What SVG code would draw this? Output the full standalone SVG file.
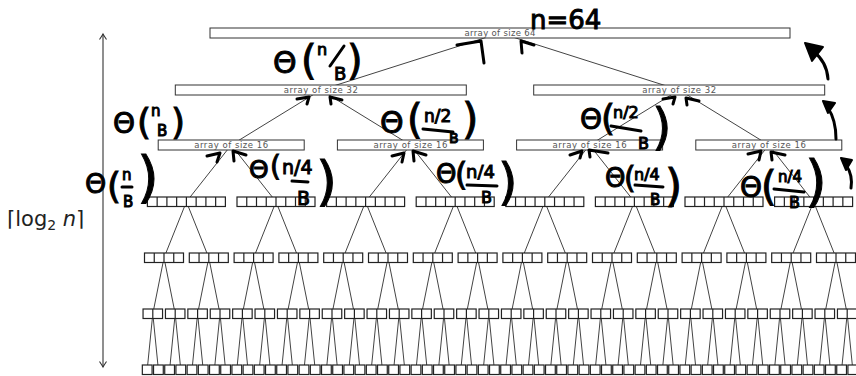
<svg xmlns="http://www.w3.org/2000/svg" xmlns:xlink="http://www.w3.org/1999/xlink" width="856" height="376" viewBox="0 0 856 376">
<style>
.bx{fill:#fff;stroke:#333;stroke-width:1}
.cl{fill:#fff;stroke:#222;stroke-width:1.2}
.cd{fill:none;stroke:#222;stroke-width:1.2}
.cn{fill:none;stroke:#444;stroke-width:1}
.lb{font-family:"DejaVu Sans","Liberation Sans",sans-serif;font-size:8.5px;fill:#555;text-anchor:middle}
.ax{fill:none;stroke:#333;stroke-width:1.1}
.lg{font-family:"DejaVu Sans","Liberation Sans",sans-serif;font-size:21px;fill:#222}
.hw{font-family:"DejaVu Sans","Liberation Sans",sans-serif;font-weight:normal;fill:#000;stroke:#000;stroke-width:1}
.hs{fill:none;stroke:#000;stroke-width:3;stroke-linecap:round;stroke-linejoin:round}
</style>
<defs>
<marker id="ah" viewBox="-7 -5 9 10" markerWidth="9" markerHeight="10" refX="0" refY="0" orient="auto-start-reverse" markerUnits="userSpaceOnUse"><path d="M-5.5,-3.5 Q-1.5,-0.8 0,0 Q-1.5,0.8 -5.5,3.5" fill="none" stroke="#333" stroke-width="1.1"/></marker>
<g id="b1"><rect class="cl" width="9.75" height="9.5"/></g>
<g id="b2"><rect class="cl" width="19.5" height="9.5"/><path class="cd" d="M9.75 0v9.5"/></g>
<g id="b4"><rect class="cl" width="39" height="9.5"/><path class="cd" d="M9.75 0v9.5M19.5 0v9.5M29.25 0v9.5"/></g>
<g id="b8"><rect class="cl" width="78" height="9.5"/><path class="cd" d="M9.75 0v9.5M19.5 0v9.5M29.25 0v9.5M39 0v9.5M48.75 0v9.5M58.5 0v9.5M68.25 0v9.5"/></g>
</defs>
<rect width="856" height="376" fill="#fff"/>

<g id="axis">
<path class="ax" d="M103 367V34" marker-start="url(#ah)" marker-end="url(#ah)"/>
<text class="lg" x="7" y="226">⌈log<tspan font-size="14" dy="4">2</tspan><tspan dy="-4"> </tspan><tspan font-style="italic">n</tspan>⌉</text>
</g>

<g id="connectors" class="cn">
<path d="M320.8 90L500 33L679.2 90"/>
<path d="M231.2 145l89.6-55 89.6 55m179.2 0l89.6-55 89.6 55"/>
<path d="M186.4 201.75l44.8-56.75 44.8 56.75m89.6 0l44.8-56.75 44.8 56.75m89.6 0l44.8-56.75 44.8 56.75m89.6 0l44.8-56.75 44.8 56.75"/>
<path d="M164 257.75l22.4-56 22.4 56m44.8 0l22.4-56 22.4 56m44.8 0l22.4-56 22.4 56m44.8 0l22.4-56 22.4 56m44.8 0l22.4-56 22.4 56m44.8 0l22.4-56 22.4 56m44.8 0l22.4-56 22.4 56m44.8 0l22.4-56 22.4 56"/>
<path d="M152.8 313.75l11.2-56 11.2 56m22.4 0l11.2-56 11.2 56m22.4 0l11.2-56 11.2 56m22.4 0l11.2-56 11.2 56m22.4 0l11.2-56 11.2 56m22.4 0l11.2-56 11.2 56m22.4 0l11.2-56 11.2 56m22.4 0l11.2-56 11.2 56m22.4 0l11.2-56 11.2 56m22.4 0l11.2-56 11.2 56m22.4 0l11.2-56 11.2 56m22.4 0l11.2-56 11.2 56m22.4 0l11.2-56 11.2 56m22.4 0l11.2-56 11.2 56m22.4 0l11.2-56 11.2 56m22.4 0l11.2-56 11.2 56"/>
<path d="M147.2 369.75l5.6-56 5.6 56m11.2 0l5.6-56 5.6 56m11.2 0l5.6-56 5.6 56m11.2 0l5.6-56 5.6 56m11.2 0l5.6-56 5.6 56m11.2 0l5.6-56 5.6 56m11.2 0l5.6-56 5.6 56m11.2 0l5.6-56 5.6 56m11.2 0l5.6-56 5.6 56m11.2 0l5.6-56 5.6 56m11.2 0l5.6-56 5.6 56m11.2 0l5.6-56 5.6 56m11.2 0l5.6-56 5.6 56m11.2 0l5.6-56 5.6 56m11.2 0l5.6-56 5.6 56m11.2 0l5.6-56 5.6 56m11.2 0l5.6-56 5.6 56m11.2 0l5.6-56 5.6 56m11.2 0l5.6-56 5.6 56m11.2 0l5.6-56 5.6 56m11.2 0l5.6-56 5.6 56m11.2 0l5.6-56 5.6 56m11.2 0l5.6-56 5.6 56m11.2 0l5.6-56 5.6 56m11.2 0l5.6-56 5.6 56m11.2 0l5.6-56 5.6 56m11.2 0l5.6-56 5.6 56m11.2 0l5.6-56 5.6 56m11.2 0l5.6-56 5.6 56m11.2 0l5.6-56 5.6 56m11.2 0l5.6-56 5.6 56m11.2 0l5.6-56 5.6 56"/>
</g>

<g id="n64"><rect class="bx" x="210" y="28" width="580" height="10"/><text class="lb" x="500" y="36.2" textLength="71">array of size 64</text></g>
<g id="n32-0"><rect class="bx" x="175.3" y="85" width="291" height="10"/><text class="lb" x="320.8" y="93.2" textLength="74">array of size 32</text></g>
<g id="n32-1"><rect class="bx" x="533.7" y="85" width="291" height="10"/><text class="lb" x="679.2" y="93.2" textLength="74">array of size 32</text></g>
<g id="n16-0"><rect class="bx" x="158.2" y="140" width="146" height="10"/><text class="lb" x="231.2" y="148.2" textLength="74">array of size 16</text></g>
<g id="n16-1"><rect class="bx" x="337.4" y="140" width="146" height="10"/><text class="lb" x="410.4" y="148.2" textLength="74">array of size 16</text></g>
<g id="n16-2"><rect class="bx" x="516.6" y="140" width="146" height="10"/><text class="lb" x="589.6" y="148.2" textLength="74">array of size 16</text></g>
<g id="n16-3"><rect class="bx" x="695.8" y="140" width="146" height="10"/><text class="lb" x="768.8" y="148.2" textLength="74">array of size 16</text></g>

<g id="n8-0"><use href="#b8" x="147.4" y="197"/></g>
<g id="n8-1"><use href="#b8" x="237" y="197"/></g>
<g id="n8-2"><use href="#b8" x="326.6" y="197"/></g>
<g id="n8-3"><use href="#b8" x="416.2" y="197"/></g>
<g id="n8-4"><use href="#b8" x="505.8" y="197"/></g>
<g id="n8-5"><use href="#b8" x="595.4" y="197"/></g>
<g id="n8-6"><use href="#b8" x="685" y="197"/></g>
<g id="n8-7"><use href="#b8" x="774.6" y="197"/></g>

<g id="n4-0"><use href="#b4" x="144.5" y="253"/></g>
<g id="n4-1"><use href="#b4" x="189.3" y="253"/></g>
<g id="n4-2"><use href="#b4" x="234.1" y="253"/></g>
<g id="n4-3"><use href="#b4" x="278.9" y="253"/></g>
<g id="n4-4"><use href="#b4" x="323.7" y="253"/></g>
<g id="n4-5"><use href="#b4" x="368.5" y="253"/></g>
<g id="n4-6"><use href="#b4" x="413.3" y="253"/></g>
<g id="n4-7"><use href="#b4" x="458.1" y="253"/></g>
<g id="n4-8"><use href="#b4" x="502.9" y="253"/></g>
<g id="n4-9"><use href="#b4" x="547.7" y="253"/></g>
<g id="n4-10"><use href="#b4" x="592.5" y="253"/></g>
<g id="n4-11"><use href="#b4" x="637.3" y="253"/></g>
<g id="n4-12"><use href="#b4" x="682.1" y="253"/></g>
<g id="n4-13"><use href="#b4" x="726.9" y="253"/></g>
<g id="n4-14"><use href="#b4" x="771.7" y="253"/></g>
<g id="n4-15"><use href="#b4" x="816.5" y="253"/></g>

<g id="n2-0"><use href="#b2" x="143.05" y="309"/></g>
<g id="n2-1"><use href="#b2" x="165.45" y="309"/></g>
<g id="n2-2"><use href="#b2" x="187.85" y="309"/></g>
<g id="n2-3"><use href="#b2" x="210.25" y="309"/></g>
<g id="n2-4"><use href="#b2" x="232.65" y="309"/></g>
<g id="n2-5"><use href="#b2" x="255.05" y="309"/></g>
<g id="n2-6"><use href="#b2" x="277.45" y="309"/></g>
<g id="n2-7"><use href="#b2" x="299.85" y="309"/></g>
<g id="n2-8"><use href="#b2" x="322.25" y="309"/></g>
<g id="n2-9"><use href="#b2" x="344.65" y="309"/></g>
<g id="n2-10"><use href="#b2" x="367.05" y="309"/></g>
<g id="n2-11"><use href="#b2" x="389.45" y="309"/></g>
<g id="n2-12"><use href="#b2" x="411.85" y="309"/></g>
<g id="n2-13"><use href="#b2" x="434.25" y="309"/></g>
<g id="n2-14"><use href="#b2" x="456.65" y="309"/></g>
<g id="n2-15"><use href="#b2" x="479.05" y="309"/></g>
<g id="n2-16"><use href="#b2" x="501.45" y="309"/></g>
<g id="n2-17"><use href="#b2" x="523.85" y="309"/></g>
<g id="n2-18"><use href="#b2" x="546.25" y="309"/></g>
<g id="n2-19"><use href="#b2" x="568.65" y="309"/></g>
<g id="n2-20"><use href="#b2" x="591.05" y="309"/></g>
<g id="n2-21"><use href="#b2" x="613.45" y="309"/></g>
<g id="n2-22"><use href="#b2" x="635.85" y="309"/></g>
<g id="n2-23"><use href="#b2" x="658.25" y="309"/></g>
<g id="n2-24"><use href="#b2" x="680.65" y="309"/></g>
<g id="n2-25"><use href="#b2" x="703.05" y="309"/></g>
<g id="n2-26"><use href="#b2" x="725.45" y="309"/></g>
<g id="n2-27"><use href="#b2" x="747.85" y="309"/></g>
<g id="n2-28"><use href="#b2" x="770.25" y="309"/></g>
<g id="n2-29"><use href="#b2" x="792.65" y="309"/></g>
<g id="n2-30"><use href="#b2" x="815.05" y="309"/></g>
<g id="n2-31"><use href="#b2" x="837.45" y="309"/></g>

<g id="n1-0"><use href="#b1" x="142.33" y="365"/></g>
<g id="n1-1"><use href="#b1" x="153.53" y="365"/></g>
<g id="n1-2"><use href="#b1" x="164.73" y="365"/></g>
<g id="n1-3"><use href="#b1" x="175.93" y="365"/></g>
<g id="n1-4"><use href="#b1" x="187.13" y="365"/></g>
<g id="n1-5"><use href="#b1" x="198.33" y="365"/></g>
<g id="n1-6"><use href="#b1" x="209.53" y="365"/></g>
<g id="n1-7"><use href="#b1" x="220.73" y="365"/></g>
<g id="n1-8"><use href="#b1" x="231.93" y="365"/></g>
<g id="n1-9"><use href="#b1" x="243.13" y="365"/></g>
<g id="n1-10"><use href="#b1" x="254.33" y="365"/></g>
<g id="n1-11"><use href="#b1" x="265.53" y="365"/></g>
<g id="n1-12"><use href="#b1" x="276.73" y="365"/></g>
<g id="n1-13"><use href="#b1" x="287.93" y="365"/></g>
<g id="n1-14"><use href="#b1" x="299.13" y="365"/></g>
<g id="n1-15"><use href="#b1" x="310.33" y="365"/></g>
<g id="n1-16"><use href="#b1" x="321.53" y="365"/></g>
<g id="n1-17"><use href="#b1" x="332.73" y="365"/></g>
<g id="n1-18"><use href="#b1" x="343.93" y="365"/></g>
<g id="n1-19"><use href="#b1" x="355.13" y="365"/></g>
<g id="n1-20"><use href="#b1" x="366.33" y="365"/></g>
<g id="n1-21"><use href="#b1" x="377.53" y="365"/></g>
<g id="n1-22"><use href="#b1" x="388.73" y="365"/></g>
<g id="n1-23"><use href="#b1" x="399.93" y="365"/></g>
<g id="n1-24"><use href="#b1" x="411.13" y="365"/></g>
<g id="n1-25"><use href="#b1" x="422.33" y="365"/></g>
<g id="n1-26"><use href="#b1" x="433.53" y="365"/></g>
<g id="n1-27"><use href="#b1" x="444.73" y="365"/></g>
<g id="n1-28"><use href="#b1" x="455.93" y="365"/></g>
<g id="n1-29"><use href="#b1" x="467.13" y="365"/></g>
<g id="n1-30"><use href="#b1" x="478.33" y="365"/></g>
<g id="n1-31"><use href="#b1" x="489.53" y="365"/></g>
<g id="n1-32"><use href="#b1" x="500.73" y="365"/></g>
<g id="n1-33"><use href="#b1" x="511.93" y="365"/></g>
<g id="n1-34"><use href="#b1" x="523.13" y="365"/></g>
<g id="n1-35"><use href="#b1" x="534.33" y="365"/></g>
<g id="n1-36"><use href="#b1" x="545.53" y="365"/></g>
<g id="n1-37"><use href="#b1" x="556.73" y="365"/></g>
<g id="n1-38"><use href="#b1" x="567.93" y="365"/></g>
<g id="n1-39"><use href="#b1" x="579.13" y="365"/></g>
<g id="n1-40"><use href="#b1" x="590.33" y="365"/></g>
<g id="n1-41"><use href="#b1" x="601.53" y="365"/></g>
<g id="n1-42"><use href="#b1" x="612.73" y="365"/></g>
<g id="n1-43"><use href="#b1" x="623.93" y="365"/></g>
<g id="n1-44"><use href="#b1" x="635.13" y="365"/></g>
<g id="n1-45"><use href="#b1" x="646.33" y="365"/></g>
<g id="n1-46"><use href="#b1" x="657.53" y="365"/></g>
<g id="n1-47"><use href="#b1" x="668.73" y="365"/></g>
<g id="n1-48"><use href="#b1" x="679.93" y="365"/></g>
<g id="n1-49"><use href="#b1" x="691.13" y="365"/></g>
<g id="n1-50"><use href="#b1" x="702.33" y="365"/></g>
<g id="n1-51"><use href="#b1" x="713.53" y="365"/></g>
<g id="n1-52"><use href="#b1" x="724.73" y="365"/></g>
<g id="n1-53"><use href="#b1" x="735.93" y="365"/></g>
<g id="n1-54"><use href="#b1" x="747.13" y="365"/></g>
<g id="n1-55"><use href="#b1" x="758.33" y="365"/></g>
<g id="n1-56"><use href="#b1" x="769.53" y="365"/></g>
<g id="n1-57"><use href="#b1" x="780.73" y="365"/></g>
<g id="n1-58"><use href="#b1" x="791.93" y="365"/></g>
<g id="n1-59"><use href="#b1" x="803.13" y="365"/></g>
<g id="n1-60"><use href="#b1" x="814.33" y="365"/></g>
<g id="n1-61"><use href="#b1" x="825.53" y="365"/></g>
<g id="n1-62"><use href="#b1" x="836.73" y="365"/></g>
<g id="n1-63"><use href="#b1" x="847.93" y="365"/></g>

<g id="handwriting">
<text class="hw" x="530" y="29" font-size="26">n=64</text>

<text class="hw" x="273" y="73" font-size="30">Θ</text>
<text class="hw" x="301" y="74" font-size="40">(</text>
<text class="hw" x="317" y="55" font-size="16">n</text>
<path class="hs" d="M330 66L344 46"/>
<text class="hw" x="334" y="80" font-size="18">B</text>
<text class="hw" x="347" y="74" font-size="40">)</text>

<text class="hw" x="113" y="133" font-size="28">Θ</text>
<text class="hw" x="137" y="134" font-size="36">(</text>
<text class="hw" x="151" y="116" font-size="15">n</text>
<text class="hw" x="157" y="136" font-size="15">B</text>
<text class="hw" x="171" y="134" font-size="36">)</text>

<text class="hw" x="380" y="133" font-size="30">Θ</text>
<text class="hw" x="407" y="133" font-size="40">(</text>
<text class="hw" x="424" y="122" font-size="17">n/2</text>
<path class="hs" d="M423 129L453 132"/>
<text class="hw" x="449" y="143" font-size="14">B</text>
<text class="hw" x="462" y="134" font-size="42">)</text>

<text class="hw" x="580" y="129" font-size="28">Θ</text>
<text class="hw" x="601" y="130" font-size="36">(</text>
<text class="hw" x="613" y="118" font-size="16">n/2</text>
<path class="hs" d="M611 126L641 131"/>
<text class="hw" x="638" y="149" font-size="16">B</text>
<text class="hw" x="652" y="144" font-size="50">)</text>

<text class="hw" x="85" y="193" font-size="27">Θ</text>
<text class="hw" x="107" y="198" font-size="36">(</text>
<text class="hw" x="122" y="180" font-size="15">n</text>
<path class="hs" d="M122 187L132 187"/>
<text class="hw" x="123" y="207" font-size="15">B</text>
<text class="hw" x="137" y="196" font-size="56">)</text>

<text class="hw" x="249" y="178" font-size="25">Θ</text>
<text class="hw" x="270" y="176" font-size="28">(</text>
<text class="hw" x="282" y="174" font-size="19">n/4</text>
<path class="hs" d="M292 181L308 182"/>
<text class="hw" x="297" y="205" font-size="19">B</text>
<text class="hw" x="316" y="200" font-size="54">)</text>

<text class="hw" x="436" y="183" font-size="26">Θ</text>
<text class="hw" x="455" y="185" font-size="32">(</text>
<text class="hw" x="466" y="178" font-size="18">n/4</text>
<path class="hs" d="M467 185L497 186"/>
<text class="hw" x="481" y="203" font-size="16">B</text>
<text class="hw" x="498" y="199" font-size="50">)</text>

<text class="hw" x="605" y="187" font-size="26">Θ</text>
<text class="hw" x="624" y="188" font-size="30">(</text>
<text class="hw" x="634" y="180" font-size="16">n/4</text>
<path class="hs" d="M635 185L663 187"/>
<text class="hw" x="650" y="205" font-size="15">B</text>
<text class="hw" x="665" y="201" font-size="44">)</text>

<text class="hw" x="740" y="197" font-size="28">Θ</text>
<text class="hw" x="761" y="200" font-size="40">(</text>
<text class="hw" x="778" y="182" font-size="15">n/4</text>
<path class="hs" d="M774 189L804 192"/>
<text class="hw" x="789" y="208" font-size="16">B</text>
<text class="hw" x="805" y="200" font-size="56">)</text>

<path class="hs" d="M457 45L481 41L484 63"/>
<path class="hs" d="M522 53L521 41L534 45"/>
<path class="hs" d="M297 99L309 97L307 104"/>
<path class="hs" d="M331 104L330 97L342 100"/>
<path class="hs" d="M663 99L675 97L673 104"/>
<path class="hs" d="M687 105L686 98L699 101"/>
<path class="hs" d="M207 156L220 153L217 162"/>
<path class="hs" d="M234 161L233 151L246 155"/>
<path class="hs" d="M392 156L404 153L402 162"/>
<path class="hs" d="M414 161L413 151L426 155"/>
<path class="hs" d="M570 155L582 151L580 158"/>
<path class="hs" d="M590 157L589 150L608 153"/>
<path class="hs" d="M748 154L761 151L759 160"/>
<path class="hs" d="M772 160L771 152L785 155"/>

<path class="hs" d="M828 79Q827 62 813 51"/>
<path d="M805 43L823 47L812 61Z" fill="#000" stroke="#000" stroke-width="2" stroke-linejoin="round"/>
<path class="hs" d="M836 139Q836 120 828 108"/>
<path d="M823 101L835 103L828 113Z" fill="#000" stroke="#000" stroke-width="2" stroke-linejoin="round"/>
<path class="hs" d="M851 188Q853 175 846 165"/>
<path d="M841 158L852 160L846 170Z" fill="#000" stroke="#000" stroke-width="2" stroke-linejoin="round"/>
</g>
</svg>
